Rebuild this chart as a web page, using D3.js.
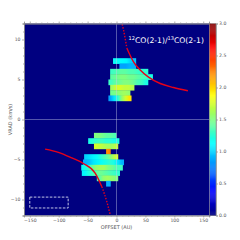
<!DOCTYPE html>
<html>
<head>
<meta charset="utf-8">
<script src="https://cdn.jsdelivr.net/npm/d3@7"></script>
<style>
html, body { margin: 0; padding: 0; background: #fff; }
svg { display: block; }
text { font-family: "DejaVu Sans", sans-serif; }
.axis path, .axis line { stroke: #8c8c8c; stroke-width: 0.7; }
.axis text { fill: #555; font-size: 4.6px; }
</style>
</head>
<body>
<div id="graph"></div>
<script>
// channel velocities (km/s) of the rows that have signal
let velocities = [7.33, 6.67, 6, 5.33, 4.67, 4, 3.33, 2.67,
                  -2, -2.67, -3.33, -4, -4.67, -5.33, -6, -6.67, -7.33, -8];
// left / right end of each row (AU)
let rowStart = [-6, 5, -11, -11, -14, -11, -11, -14,
                -39, -49, -39, -18, -56, -58, -61, -60, -34, -18];
let rowEnd = [34, 34, 55, 63, 55, 31, 24, 26,
              0, 5, 3, -10, 3, 13, 11, 6, 3, -10];
// line ratio along each row, left to right
let rowValues = [
    [1.15, 1.15, 1.12, 1.1, 1.0, 0.95],
    [0.85, 0.85, 0.9, 0.9],
    [1.3, 1.35, 1.4, 1.4, 1.35, 1.35, 1.3, 1.25, 1.25],
    [1.4, 1.45, 1.5, 1.5, 1.45, 1.45, 1.4, 1.35, 1.3, 1.2],
    [1.3, 1.4, 1.45, 1.5, 1.5, 1.45, 1.35, 1.3, 1.2],
    [1.6, 1.75, 1.75, 1.7, 1.7, 1.65],
    [1.45, 1.5, 1.55, 1.6, 1.55],
    [0.85, 1.05, 1.25, 1.55, 1.75, 1.95],
    [1.5, 1.5, 1.45, 1.4, 1.4, 1.35],
    [1.2, 1.25, 1.3, 1.3, 1.25, 1.25, 1.2, 1.2],
    [1.75, 1.7, 1.65, 1.6, 1.6, 1.7],
    [2.2, 2.25],
    [1.0, 1.05, 1.1, 1.15, 1.25, 1.35, 1.45, 1.6, 1.75],
    [0.9, 0.95, 1.05, 1.1, 1.15, 1.2, 1.25, 1.2, 1.05, 0.9],
    [1.15, 1.25, 1.4, 1.55, 1.6, 1.6, 1.5, 1.45, 1.35, 1.3],
    [1.1, 1.2, 1.3, 1.4, 1.45, 1.4, 1.35, 1.3, 1.25],
    [1.35, 1.55, 1.6, 1.55, 1.5],
    [0.9, 0.9]
];
let curveOffset = [9.9, 12.1, 18, 29.4, 41, 55.4, 75.6, 98.6, 123.5];
let curveVel = [11.9, 11.2, 8.9, 7.2, 6.2, 5.3, 4.5, 4.0, 3.6];
let curveOffset2 = [-123.5, -100.5, -77.4, -57.3, -36.9, -25.3, -16.6, -10.9];
let curveVel2 = [-3.7, -4.1, -4.8, -5.5, -6.7, -8.4, -10.3, -11.9];
let beamBox = [-150, -83.6, -9.7, -11.06];
let xTicks = [-150, -100, -50, 0, 50, 100, 150];
let yTicks = [-10, -5, 0, 5, 10];
let barTicks = [0, 0.5, 1, 1.5, 2, 2.5, 3];
let titleParts = ['12', 'CO(2-1)/', '13', 'CO(2-1)'];

let jet = function(t){
    let ch = d => Math.round(255 * Math.max(0, Math.min(1, 1.5 - Math.abs(4 * t - d))));
    return 'rgb(' + ch(3) + ',' + ch(2) + ',' + ch(1) + ')';
};

let svg = d3.select('#graph').append('svg').attr('width', 240).attr('height', 240);

let x = d3.scaleLinear().domain([-160, 160]).range([24, 209]);
let y = d3.scaleLinear().domain([-12, 12]).range([215.5, 23.5]);
let color = d3.scaleLinear().domain([0, 3]).range([0, 1]);
let barY = d3.scaleLinear().domain([0, 3]).range([215.5, 23.5]);
let rowHeight = y(0) - y(0.667);

// background
svg.append('rect')
    .attr('x', x(-160)).attr('y', y(12))
    .attr('width', x(160) - x(-160)).attr('height', y(-12) - y(12))
    .attr('fill', jet(0));

// ratio rows, one gradient strip each so no seams show between cells
let defs = svg.append('defs');
velocities.forEach((v, i) => {
    let grad = defs.append('linearGradient').attr('id', 'row' + i);
    let n = rowValues[i].length;
    rowValues[i].forEach((value, j) => {
        grad.append('stop')
            .attr('offset', ((j + 0.5) / n * 100) + '%')
            .attr('stop-color', jet(color(value)));
    });
});
svg.append('g')
    .selectAll('rect')
    .data(velocities)
    .enter().append('rect')
    .attr('x', (d, i) => x(rowStart[i]))
    .attr('y', d => y(d) - rowHeight / 2)
    .attr('width', (d, i) => x(rowEnd[i]) - x(rowStart[i]))
    .attr('height', rowHeight + 0.4)
    .attr('fill', (d, i) => 'url(#row' + i + ')');

// crosshair
svg.append('line')
    .attr('x1', x(0)).attr('x2', x(0)).attr('y1', y(12)).attr('y2', y(-12))
    .attr('stroke', '#c8cfe6').attr('stroke-opacity', 0.7).attr('stroke-width', 0.6);
svg.append('line')
    .attr('x1', x(-160)).attr('x2', x(160)).attr('y1', y(0)).attr('y2', y(0))
    .attr('stroke', '#c8cfe6').attr('stroke-opacity', 0.7).attr('stroke-width', 0.6);

// rotation curves
let line = d3.line().x(d => x(d[0])).y(d => y(d[1])).curve(d3.curveMonotoneX);
let drawCurve = function(offsets, vels){
    let pts = offsets.map((o, i) => [o, vels[i]]);
    let steep = pts.filter(d => Math.abs(d[1]) >= 8);
    let flat = pts.filter(d => Math.abs(d[1]) <= 8.9);
    svg.append('path').attr('d', line(flat))
        .attr('fill', 'none').attr('stroke', '#e60018').attr('stroke-width', 1.4);
    svg.append('path').attr('d', line(steep))
        .attr('fill', 'none').attr('stroke', '#e60018').attr('stroke-width', 1.4)
        .attr('stroke-dasharray', '1.4 1.6');
};
drawCurve(curveOffset, curveVel);
drawCurve(curveOffset2, curveVel2);

// dashed box
svg.append('rect')
    .attr('x', x(beamBox[0])).attr('y', y(beamBox[2]))
    .attr('width', x(beamBox[1]) - x(beamBox[0]))
    .attr('height', y(beamBox[3]) - y(beamBox[2]))
    .attr('fill', 'none').attr('stroke', '#d8dcf2').attr('stroke-width', 0.9)
    .attr('stroke-dasharray', '2.6 1.4');

// title
let title = svg.append('text').attr('x', 128.6).attr('y', 43).attr('fill', '#fff').style('font-size', '7.7px');
titleParts.forEach((part, i) => {
    let sup = i % 2 == 0;
    title.append('tspan')
        .attr('dy', sup ? -3 : 3)
        .style('font-size', sup ? '5px' : '7.7px')
        .text(part);
});

// axes
let tickSet = (scale, step) => d3.range(scale.domain()[0], scale.domain()[1] + 1e-6, step);
let xMinor = tickSet(x, 10).filter(d => d % 50 != 0);
let yMinor = tickSet(y, 1).filter(d => d % 5 != 0);

svg.append('g').attr('class', 'axis')
    .attr('transform', 'translate(0,' + y(-12) + ')')
    .call(d3.axisBottom(x).tickValues(xTicks).tickSize(2).tickPadding(1.5).tickFormat(d3.format('d')));
svg.append('g').attr('class', 'axis')
    .attr('transform', 'translate(0,' + y(-12) + ')')
    .call(d3.axisBottom(x).tickValues(xMinor).tickSize(1).tickFormat(''));
svg.append('g').attr('class', 'axis')
    .attr('transform', 'translate(0,' + y(12) + ')')
    .call(d3.axisTop(x).tickValues(xTicks).tickSize(2).tickFormat(''));
svg.append('g').attr('class', 'axis')
    .attr('transform', 'translate(0,' + y(12) + ')')
    .call(d3.axisTop(x).tickValues(xMinor).tickSize(1).tickFormat(''));
svg.append('g').attr('class', 'axis')
    .attr('transform', 'translate(' + x(-160) + ',0)')
    .call(d3.axisLeft(y).tickValues(yTicks).tickSize(2).tickPadding(1.5).tickFormat(d3.format('d')));
svg.append('g').attr('class', 'axis')
    .attr('transform', 'translate(' + x(-160) + ',0)')
    .call(d3.axisLeft(y).tickValues(yMinor).tickSize(1).tickFormat(''));
svg.append('g').attr('class', 'axis')
    .attr('transform', 'translate(' + x(160) + ',0)')
    .call(d3.axisRight(y).tickValues(yTicks).tickSize(2).tickFormat(''));
svg.append('g').attr('class', 'axis')
    .attr('transform', 'translate(' + x(160) + ',0)')
    .call(d3.axisRight(y).tickValues(yMinor).tickSize(1).tickFormat(''));

svg.append('text')
    .attr('x', 116.5).attr('y', 229)
    .attr('text-anchor', 'middle')
    .attr('fill', '#555').style('font-size', '5px')
    .text('OFFSET (AU)');
svg.append('text')
    .attr('transform', 'translate(11.5,119.5) rotate(-90)')
    .attr('text-anchor', 'middle')
    .attr('fill', '#555').style('font-size', '5px')
    .text('VRAD (km/s)');

// colorbar
let barSteps = d3.range(0, 3, 0.015);
svg.append('g').selectAll('rect')
    .data(barSteps)
    .enter().append('rect')
    .attr('x', 209.5).attr('width', 6.5)
    .attr('y', d => barY(d + 0.015))
    .attr('height', d => barY(d) - barY(d + 0.015) + 0.3)
    .attr('fill', d => jet(color(d)));
svg.append('g').attr('class', 'axis')
    .attr('transform', 'translate(216,0)')
    .call(d3.axisRight(barY).tickValues(barTicks).tickSize(2).tickPadding(1).tickFormat(d3.format('.1f')));
svg.append('rect')
    .attr('x', 209.5).attr('y', barY(3)).attr('width', 6.5).attr('height', barY(0) - barY(3))
    .attr('fill', 'none').attr('stroke', '#8c8c8c').attr('stroke-width', 0.5);
</script>
</body>
</html>
